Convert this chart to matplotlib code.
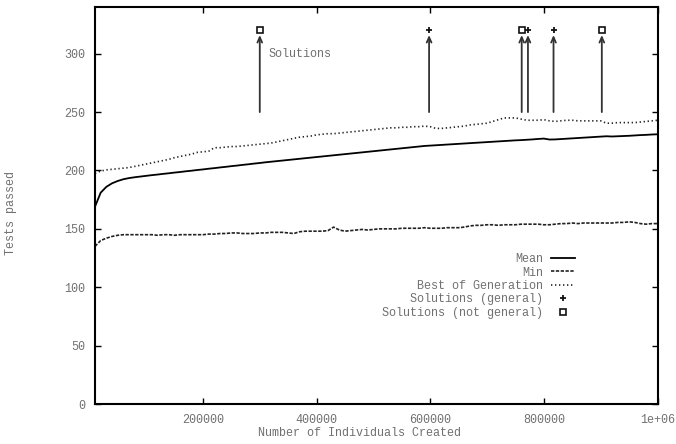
import numpy as np
import matplotlib
matplotlib.use("Agg")
import matplotlib.pyplot as plt

# ---- data ----
individuals = np.arange(1, 101) * 10000  # generation sampling (every 10000 individuals)

mean_vals = [169, 181, 186, 189, 191, 192.5, 193.5, 194.2, 194.8, 195.4,
             196.0, 196.5, 197.1, 197.6, 198.2, 198.7, 199.3, 199.8, 200.4, 200.9,
             201.5, 202.0, 202.6, 203.1, 203.7, 204.2, 204.8, 205.3, 205.9, 206.4,
             207.0, 207.5, 208.0, 208.5, 209.0, 209.5, 210.0, 210.5, 211.0, 211.5,
             212.0, 212.5, 213.0, 213.5, 214.0, 214.5, 215.0, 215.5, 216.0, 216.5,
             217.0, 217.5, 218.0, 218.5, 219.0, 219.5, 220.0, 220.5, 221.0, 221.3,
             221.6, 221.9, 222.2, 222.5, 222.8, 223.1, 223.4, 223.7, 224.0, 224.3,
             224.6, 224.9, 225.2, 225.5, 225.8, 226.0, 226.3, 226.6, 227.0, 227.3,
             226.5, 226.6, 226.9, 227.2, 227.5, 227.8, 228.1, 228.4, 228.7, 229.0,
             229.3, 229.1, 229.3, 229.5, 229.7, 230.0, 230.3, 230.5, 230.8, 231.0]

min_vals = [135, 140, 142, 143.5, 144.5, 145, 145, 145, 145, 145,
            145, 144.5, 145, 145, 144.5, 145, 145, 145, 145, 145,
            145.5, 145.5, 146, 146, 146.5, 146.5, 146, 146, 146, 146.5,
            146.5, 147, 147, 147, 146.5, 146, 147.5, 148, 148, 148,
            148, 148.5, 151.5, 149, 148, 148.5, 149, 149.5, 149, 149.5,
            150, 150, 150, 150, 150.5, 150.5, 150.5, 150.5, 151, 150.5,
            150.5, 150.5, 151, 151, 151, 151.5, 152.5, 153, 153, 153.5,
            153.5, 153, 153.5, 153.5, 153.5, 154, 154, 154, 154, 153.5,
            153.5, 154, 154.5, 154.5, 155, 154.5, 155, 155, 155, 155,
            155, 155, 155.5, 155.5, 156, 155.5, 154.5, 154, 154.5, 154.5]

best_vals = [197.5, 199.5, 200.5, 201, 201.5, 202, 202.5, 203.5, 204.5, 205.5,
             206.5, 207.5, 208.5, 209.5, 211, 212, 213, 214, 215.5, 216,
             216.5, 219.5, 219.5, 220, 220.5, 220.5, 221, 221.5, 222, 222.5,
             223, 223.5, 224.5, 225.5, 226.5, 227.5, 228.5, 229, 229.5, 230.5,
             231, 231.5, 231.5, 232, 232.5, 233, 233.5, 234, 234.5, 235,
             235.5, 236, 236.5, 236.5, 237, 237, 237.5, 237.5, 238, 237.5,
             236, 236, 236.5, 237, 237.5, 238, 239, 239.5, 240, 240.5,
             242, 243.5, 245, 245, 245, 244, 243, 243, 243, 243.5,
             242.5, 242, 242.5, 243, 243, 242.5, 242.5, 242.5, 242.5, 242.5,
             240.5, 240.5, 241, 241, 241, 241, 241.5, 242, 242.5, 243]

sol_general_x = [598000, 772000, 817000]
sol_notgeneral_x = [300000, 761000, 902000]
sol_marker_y = 320
arrow_from_y = 250
arrow_to_y = 316

xticks = [200000, 400000, 600000, 800000, 1000000]
xtick_labels = ["200000", "400000", "600000", "800000", "1e+06"]
yticks = [0, 50, 100, 150, 200, 250, 300]

# ---- style ----
plt.rcParams['font.family'] = ['Liberation Mono', 'DejaVu Sans Mono']
plt.rcParams['font.size'] = 8.5
txt_color = '#707070'

fig = plt.figure(figsize=(6.76, 4.44), dpi=100)
ax = fig.add_axes([95/676, 40/444, (657.5-95)/676, (404-7)/444])

ax.plot(individuals, mean_vals, color='black', lw=1.3, label='Mean')
ax.plot(individuals, min_vals, color='#222222', lw=1.2, dashes=(2.0, 0.9), label='Min')
ax.plot(individuals, best_vals, color='#222222', lw=1.2, dashes=(0.8, 1.6), label='Best of Generation')

for x in sol_general_x + sol_notgeneral_x:
    ax.annotate('', xy=(x, arrow_to_y), xytext=(x, arrow_from_y),
                arrowprops=dict(arrowstyle='->,head_length=0.45,head_width=0.2',
                                color='#333333', lw=1.3, shrinkA=0, shrinkB=0))

ax.plot(sol_general_x, [sol_marker_y]*len(sol_general_x), linestyle='none',
        marker='+', ms=5, mew=1.3, color='#111111', label='Solutions (general)')
ax.plot(sol_notgeneral_x, [sol_marker_y]*len(sol_notgeneral_x), linestyle='none',
        marker='s', ms=5, mew=1.2, mfc='white', mec='#111111', label='Solutions (not general)')

ax.text(315000, 300, 'Solutions', ha='left', va='center', color=txt_color, fontsize=8.5)

ax.set_xlim(10000, 1000000)
ax.set_ylim(0, 340)
ax.set_xticks(xticks)
ax.set_xticklabels(xtick_labels)
ax.set_yticks(yticks)
ax.tick_params(direction='in', length=4, width=1, top=True, right=True,
               labelcolor=txt_color, labelsize=8.5, pad=7)
for s in ax.spines.values():
    s.set_linewidth(1.5)

ax.set_xlabel('Number of Individuals Created', color=txt_color, fontsize=8.5)
ax.xaxis.set_label_coords(0.471, -0.058)
ax.set_ylabel('Tests passed', color=txt_color, fontsize=8.5)
ax.yaxis.set_label_coords(-0.139, 0.48)

leg = ax.legend(loc='upper right', bbox_to_anchor=(0.853, 0.38), frameon=False,
                markerfirst=False, borderpad=0, borderaxespad=0, labelspacing=0.12,
                handlelength=2.0, handletextpad=0.7, fontsize=8.5)
for t in leg.get_texts():
    t.set_color(txt_color)
    t.set_ha('right')

fig.savefig('out.png', dpi=100)
